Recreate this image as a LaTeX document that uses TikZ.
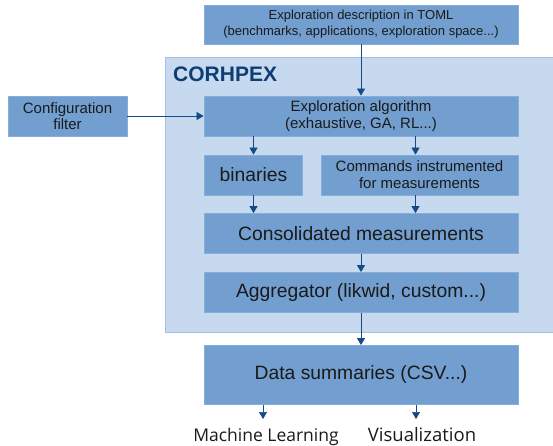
\documentclass[tikz,border=0pt]{standalone}
\usepackage{fontspec}
\setmainfont{Liberation Sans}
\newfontfamily\labfont{Open Sans}
\usetikzlibrary{arrows.meta}
\definecolor{boxblue}{HTML}{729FCF}
\definecolor{boxedge}{HTML}{86AEDA}
\definecolor{contfill}{HTML}{C6D9EF}
\definecolor{contedge}{HTML}{A3C0E2}
\definecolor{arrowblue}{HTML}{144A85}
\definecolor{titleblue}{HTML}{0E3D75}
\definecolor{txt}{HTML}{1A1A1A}
\begin{document}
\begin{tikzpicture}[x=1pt,y=-1pt,
  blk/.style={draw=boxedge, line width=0.8pt, fill=boxblue, inner sep=0pt, align=center, text=txt},
  cont/.style={draw=contedge, line width=0.8pt, fill=contfill},
  arr/.style={draw=arrowblue, line width=0.7pt, -{Triangle[width=8pt,length=7pt]}},
  small/.style={font=\fontsize{13}{16}\selectfont},
  mid/.style={font=\fontsize{15}{17}\selectfont},
  big/.style={font=\fontsize{19.3}{22}\selectfont},
  lab/.style={text=txt, anchor=base, inner sep=0pt}]
\useasboundingbox (0,0) rectangle (553,446);
% container
\node[cont, anchor=north west, minimum width=392pt, minimum height=275pt, inner sep=0pt] (corh) at (165,57) {};
\node[anchor=base west, inner sep=0pt, text=titleblue, font=\fontsize{21}{24}\selectfont\bfseries] (title) at (173,82) {CORHPEX};
% boxes
\node[blk, small, minimum width=314pt, minimum height=39pt] (toml) at (361,24.5) {Exploration description in TOML\\(benchmarks, applications, exploration space...)};
\node[blk, mid, minimum width=119pt, minimum height=40pt, font=\fontsize{15}{16}\selectfont] (filter) at (67.5,116) {Configuration\\filter};
\node[blk, mid, minimum width=314pt, minimum height=40pt] (alg) at (361,116) {Exploration algorithm\\(exhaustive, GA, RL...)};
\node[blk, big, minimum width=98pt, minimum height=40pt] (bin) at (253.5,175) {binaries};
\node[blk, mid, minimum width=197pt, minimum height=40pt] (cmd) at (419.5,175) {Commands instrumented\\for measurements};
\node[blk, big, minimum width=314pt, minimum height=40pt] (cons) at (361,233.5) {Consolidated measurements};
\node[blk, big, minimum width=314pt, minimum height=40pt] (agg) at (361,292.5) {Aggregator (likwid, custom...)};
\node[blk, big, minimum width=314pt, minimum height=59pt] (data) at (361,375) {Data summaries (CSV...)};
% bottom labels
\node[lab, font=\labfont\fontsize{17.5}{20}\selectfont] (ml) at (266,441) {Machine Learning};
\node[lab, font=\labfont\fontsize{18.5}{20}\selectfont] (vis) at (422,441) {Visualization};
\coordinate (mlin) at (263,419);
\coordinate (visin) at (416,419);
% connectors
\draw[arr] (toml.south) -- (alg.north);
\draw[arr] (filter.east) -- (alg.west);
\draw[arr] (bin.north |- alg.south) -- (bin.north);
\draw[arr] ([xshift=-4pt]cmd.north |- alg.south) -- ([xshift=-4pt]cmd.north);
\draw[arr] (bin.south) -- (bin.south |- cons.north);
\draw[arr] ([xshift=-4pt]cmd.south) -- ([xshift=-4pt]cmd.south |- cons.north);
\draw[arr] (cons.south) -- (agg.north);
\draw[arr] (agg.south) -- (data.north);
\draw[arr] (mlin |- data.south) -- (mlin);
\draw[arr] (visin |- data.south) -- (visin);
\end{tikzpicture}
\end{document}
